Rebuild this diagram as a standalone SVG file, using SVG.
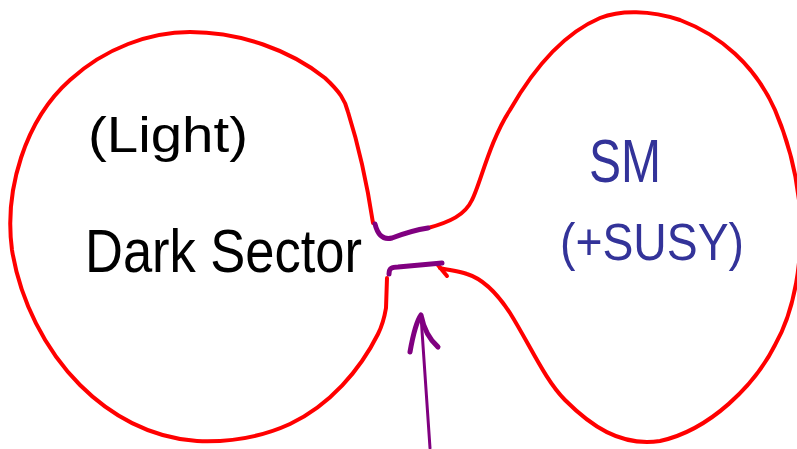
<svg xmlns="http://www.w3.org/2000/svg" width="797" height="449" viewBox="0 0 797 449">
<style>
.blob{fill:none;stroke:#ff0000;stroke-width:4;stroke-linecap:round;stroke-linejoin:round}
.neck{fill:none;stroke:#800080;stroke-width:5;stroke-linecap:round}
.arrow{fill:none;stroke:#800080;stroke-linecap:round;stroke-linejoin:round}
.dark{font-family:"Liberation Sans","DejaVu Sans",sans-serif;fill:#000}
.sm{font-family:"Liberation Sans","DejaVu Sans",sans-serif;fill:#333399}
</style>
<rect width="797" height="449" fill="#fff"/>
<g id="dark-sector">
<path class="blob" d="M387,278 L386,308 C384,320 382,326 378,334 C360,370 330,405 290,424 C255,440 220,442 197,441 C150,438 110,415 80,385 C45,350 20,300 12,250 C4,190 25,120 70,80 C105,48 150,32 190,32 C240,32 290,50 325,78 C340,92 345,100 348,112 C360,150 368,190 373,223"/>
<text class="dark" x="88" y="152" font-size="50" textLength="160" lengthAdjust="spacingAndGlyphs">(Light)</text>
<text class="dark" x="85" y="272" font-size="62" textLength="277" lengthAdjust="spacingAndGlyphs">Dark Sector</text>
</g>
<g id="sm">
<path class="blob" d="M428,228 C450,222 465,215 472,200 C480,185 490,140 510,110 C530,75 560,35 600,18 C620,10 650,10 680,20 C720,35 755,65 775,110 C790,145 797,175 800,210 C803,260 795,310 775,345 C755,385 710,430 660,441 C620,447 590,425 565,400 C545,380 530,345 510,313 C495,290 480,278 467,274 C458,271 448,270 440,268"/>
<path class="blob" d="M437,264 L447,276"/>
<text class="sm" x="589" y="182" font-size="62" textLength="72" lengthAdjust="spacingAndGlyphs">SM</text>
<text class="sm" x="560" y="260" font-size="52" textLength="184" lengthAdjust="spacingAndGlyphs">(+SUSY)</text>
</g>
<g id="connectors">
<path class="neck" d="M375,224 C378,236 384,240 392,238 C405,233 415,230 428,228"/>
<path class="neck" d="M389,274 C389,268 392,267 398,267 L442,263"/>
<path class="arrow" stroke-width="3" d="M430,448 L421,316"/>
<path class="arrow" stroke-width="5" d="M410,352 C413,335 416,322 421,315 C424,330 430,340 438,347"/>
</g>
</svg>
